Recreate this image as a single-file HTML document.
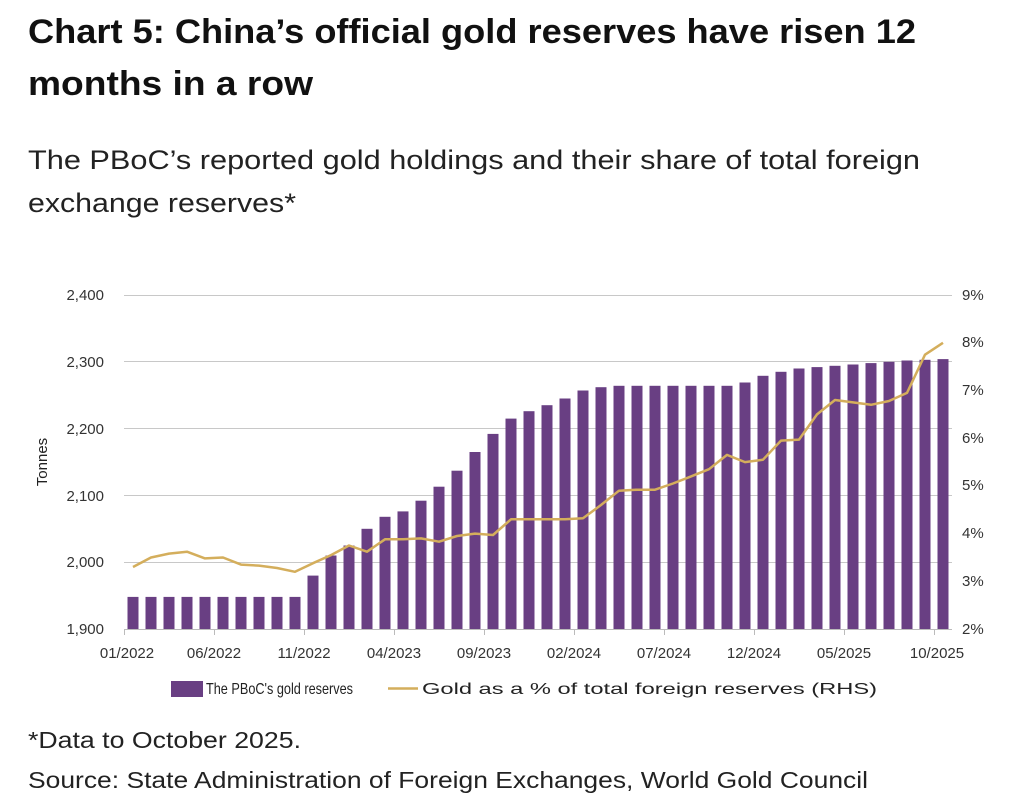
<!DOCTYPE html>
<html><head><meta charset="utf-8"><style>
html,body{margin:0;padding:0;background:#fff;}
svg{display:block;font-family:"Liberation Sans",sans-serif;}
</style></head><body>
<svg width="1024" height="802" viewBox="0 0 1024 802" xmlns="http://www.w3.org/2000/svg">
<rect width="1024" height="802" fill="#fff"/>
<text x="28" y="43" font-size="34" font-weight="bold" fill="#111" textLength="888" lengthAdjust="spacingAndGlyphs">Chart 5: China’s official gold reserves have risen 12</text>
<text x="28" y="95" font-size="34" font-weight="bold" fill="#111" textLength="285" lengthAdjust="spacingAndGlyphs">months in a row</text>
<text x="28" y="169" font-size="27" fill="#222" textLength="892" lengthAdjust="spacingAndGlyphs">The PBoC’s reported gold holdings and their share of total foreign</text>
<text x="28" y="212" font-size="27" fill="#222" textLength="268" lengthAdjust="spacingAndGlyphs">exchange reserves*</text>

<g stroke="#c8c8c8" stroke-width="1">
<line x1="124" y1="295.5" x2="952" y2="295.5"/>
<line x1="124" y1="361.5" x2="952" y2="361.5"/>
<line x1="124" y1="428.5" x2="952" y2="428.5"/>
<line x1="124" y1="495.5" x2="952" y2="495.5"/>
<line x1="124" y1="562.5" x2="952" y2="562.5"/>
</g>
<g font-size="15" fill="#333" text-anchor="end">
<text x="104" y="300">2,400</text><text x="104" y="367">2,300</text><text x="104" y="434">2,200</text>
<text x="104" y="501">2,100</text><text x="104" y="567">2,000</text><text x="104" y="634">1,900</text>
</g>
<g font-size="15" fill="#333">
<text x="962" y="300">9%</text><text x="962" y="347">8%</text><text x="962" y="395">7%</text>
<text x="962" y="443">6%</text><text x="962" y="490">5%</text><text x="962" y="538">4%</text>
<text x="962" y="586">3%</text><text x="962" y="634">2%</text>
</g>
<text transform="translate(47,462) rotate(-90)" font-size="15" fill="#222" text-anchor="middle">Tonnes</text>

<g fill="#693f83">
<rect x="127.5" y="596.9" width="11" height="32.1"/>
<rect x="145.5" y="596.9" width="11" height="32.1"/>
<rect x="163.5" y="596.9" width="11" height="32.1"/>
<rect x="181.5" y="596.9" width="11" height="32.1"/>
<rect x="199.5" y="596.9" width="11" height="32.1"/>
<rect x="217.5" y="596.9" width="11" height="32.1"/>
<rect x="235.5" y="596.9" width="11" height="32.1"/>
<rect x="253.5" y="596.9" width="11" height="32.1"/>
<rect x="271.5" y="596.9" width="11" height="32.1"/>
<rect x="289.5" y="596.9" width="11" height="32.1"/>
<rect x="307.5" y="575.6" width="11" height="53.4"/>
<rect x="325.5" y="555.5" width="11" height="73.5"/>
<rect x="343.5" y="545.5" width="11" height="83.5"/>
<rect x="361.5" y="528.8" width="11" height="100.2"/>
<rect x="379.5" y="516.8" width="11" height="112.2"/>
<rect x="397.5" y="511.4" width="11" height="117.6"/>
<rect x="415.5" y="500.7" width="11" height="128.3"/>
<rect x="433.5" y="486.7" width="11" height="142.3"/>
<rect x="451.5" y="470.7" width="11" height="158.3"/>
<rect x="469.5" y="452.0" width="11" height="177.0"/>
<rect x="487.5" y="433.9" width="11" height="195.1"/>
<rect x="505.5" y="418.6" width="11" height="210.4"/>
<rect x="523.5" y="411.2" width="11" height="217.8"/>
<rect x="541.5" y="405.2" width="11" height="223.8"/>
<rect x="559.5" y="398.5" width="11" height="230.5"/>
<rect x="577.5" y="390.5" width="11" height="238.5"/>
<rect x="595.5" y="387.2" width="11" height="241.8"/>
<rect x="613.5" y="385.8" width="11" height="243.2"/>
<rect x="631.5" y="385.8" width="11" height="243.2"/>
<rect x="649.5" y="385.8" width="11" height="243.2"/>
<rect x="667.5" y="385.8" width="11" height="243.2"/>
<rect x="685.5" y="385.8" width="11" height="243.2"/>
<rect x="703.5" y="385.8" width="11" height="243.2"/>
<rect x="721.5" y="385.8" width="11" height="243.2"/>
<rect x="739.5" y="382.5" width="11" height="246.5"/>
<rect x="757.5" y="375.8" width="11" height="253.2"/>
<rect x="775.5" y="371.8" width="11" height="257.2"/>
<rect x="793.5" y="368.5" width="11" height="260.5"/>
<rect x="811.5" y="367.1" width="11" height="261.9"/>
<rect x="829.5" y="365.8" width="11" height="263.2"/>
<rect x="847.5" y="364.5" width="11" height="264.5"/>
<rect x="865.5" y="363.1" width="11" height="265.9"/>
<rect x="883.5" y="361.8" width="11" height="267.2"/>
<rect x="901.5" y="360.5" width="11" height="268.5"/>
<rect x="919.5" y="359.8" width="11" height="269.2"/>
<rect x="937.5" y="359.1" width="11" height="269.9"/>
</g>

<polyline fill="none" stroke="#d4ae5c" stroke-width="2.5" stroke-linejoin="round" points="133,567 151,557.5 169,553.6 187,551.7 205,558.4 223,557.5 241,564.6 259,565.6 277,568 295,571.8 313,563.2 331,555.1 349,545.5 367,551.7 385,539.3 403,539.3 421,538.4 439,541.7 457,536 475,533.6 493,535 511,519.3 529,519.3 547,519.3 565,519.3 583,518.3 601,505 619,490.7 637,489.7 655,489.7 673,483.5 691,476.4 709,469.2 727,454.9 745,462.1 763,459.7 781,440.6 799,439.6 817,414.4 835,400 853,402.4 871,404.8 889,401 907,392.9 925,354.7 943,342.8"/>

<line x1="124" y1="629.5" x2="952" y2="629.5" stroke="#bbb" stroke-width="1"/>
<g stroke="#bbb" stroke-width="1">
<line x1="124.5" y1="629" x2="124.5" y2="635"/><line x1="214.5" y1="629" x2="214.5" y2="635"/>
<line x1="304.5" y1="629" x2="304.5" y2="635"/><line x1="394.5" y1="629" x2="394.5" y2="635"/>
<line x1="484.5" y1="629" x2="484.5" y2="635"/><line x1="574.5" y1="629" x2="574.5" y2="635"/>
<line x1="664.5" y1="629" x2="664.5" y2="635"/><line x1="754.5" y1="629" x2="754.5" y2="635"/>
<line x1="844.5" y1="629" x2="844.5" y2="635"/><line x1="934.5" y1="629" x2="934.5" y2="635"/>
</g>
<g font-size="15" fill="#333" text-anchor="middle">
<text x="127" y="658">01/2022</text><text x="214" y="658">06/2022</text><text x="304" y="658">11/2022</text>
<text x="394" y="658">04/2023</text><text x="484" y="658">09/2023</text><text x="574" y="658">02/2024</text>
<text x="664" y="658">07/2024</text><text x="754" y="658">12/2024</text><text x="844" y="658">05/2025</text>
<text x="937" y="658">10/2025</text>
</g>

<rect x="171" y="681" width="32" height="16" fill="#693f83"/>
<text x="206" y="694" font-size="16" fill="#222" textLength="147" lengthAdjust="spacingAndGlyphs">The PBoC's gold reserves</text>
<line x1="388" y1="688.5" x2="418" y2="688.5" stroke="#d4ae5c" stroke-width="2.5"/>
<text x="422" y="694" font-size="16" fill="#222" textLength="455" lengthAdjust="spacingAndGlyphs">Gold as a % of total foreign reserves (RHS)</text>

<text x="28" y="748" font-size="23" fill="#222" textLength="273" lengthAdjust="spacingAndGlyphs">*Data to October 2025.</text>
<text x="28" y="788" font-size="23" fill="#222" textLength="840" lengthAdjust="spacingAndGlyphs">Source: State Administration of Foreign Exchanges, World Gold Council</text>
</svg>
</body></html>
